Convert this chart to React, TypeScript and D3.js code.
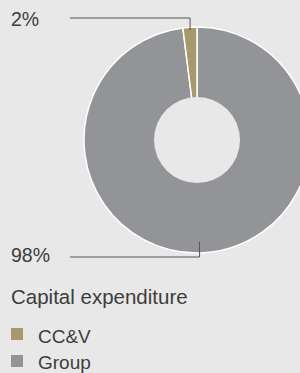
import React from "react";
import * as d3 from "d3";

const categories = ["Group", "CC&V"];
const values = [98, 2];
const labels = ["98%", "2%"];
const legendOrder = ["CC&V", "Group"];
const title = "Capital expenditure";

const colors: Record<string, string> = { "CC&V": "#a8996d", Group: "#939497" };
const bg = "#e7e8e7";

export default function App() {
  const W = 300, H = 373;
  const cx = 197, cy = 140, R = 113, r0 = 43;
  const data = categories.map((c, i) => ({ c, v: values[i], label: labels[i] }));
  const pie = d3.pie<any>().value((d) => d.v).sort(null);
  const arcs = pie(data);
  const arc = d3.arc<any>().innerRadius(0).outerRadius(R);
  const font = "'Liberation Sans', Arial, Helvetica, sans-serif";
  const textColor = "#3d3d3d";
  const lineColor = "#555555";

  const leaders = arcs.map((a) => {
    const mid = (a.startAngle + a.endAngle) / 2;
    const isTop = Math.cos(mid) > 0;
    const rr = isTop ? R - 3 : R - 11;
    const k = isTop ? 1 : 0.4;
    const px = cx + Math.sin(mid) * rr * k;
    const py = cy - Math.cos(mid) * rr;
    const ly = isTop ? cy - R - 9 : cy + R + 4;
    const labelY = isTop ? 26 : 262;
    return { c: a.data.c, label: a.data.label, px, py, ly, labelY };
  });

  return (
    <svg width={W} height={H} style={{ position: "absolute", left: 0, top: 0 }}>
      <rect x={0} y={0} width={W} height={H} fill={bg} />
      <g transform={`translate(${cx},${cy})`}>
        {arcs.map((a) => (
          <path
            key={a.data.c}
            d={arc(a) as string}
            fill={colors[a.data.c]}
            stroke="#ffffff"
            strokeWidth={1.5}
          />
        ))}
        <circle r={r0} fill={bg} />
      </g>
      {leaders.map((l) => (
        <g key={l.c}>
          <path
            d={`M70,${l.ly}H${l.px}V${l.py}`}
            fill="none"
            stroke={lineColor}
            strokeWidth={1}
          />
          <text x={11} y={l.labelY} fontFamily={font} fontSize={19.5} fill={textColor}>
            {l.label}
          </text>
        </g>
      ))}
      <text x={11} y={304} fontFamily={font} fontSize={20.5} fill={textColor}>
        {title}
      </text>
      {legendOrder.map((c, i) => (
        <g key={c}>
          <rect x={11} y={328 + i * 27} width={12} height={12} fill={colors[c]} />
          <text x={38} y={342.5 + i * 26} fontFamily={font} fontSize={19} fill={textColor}>
            {c}
          </text>
        </g>
      ))}
    </svg>
  );
}
